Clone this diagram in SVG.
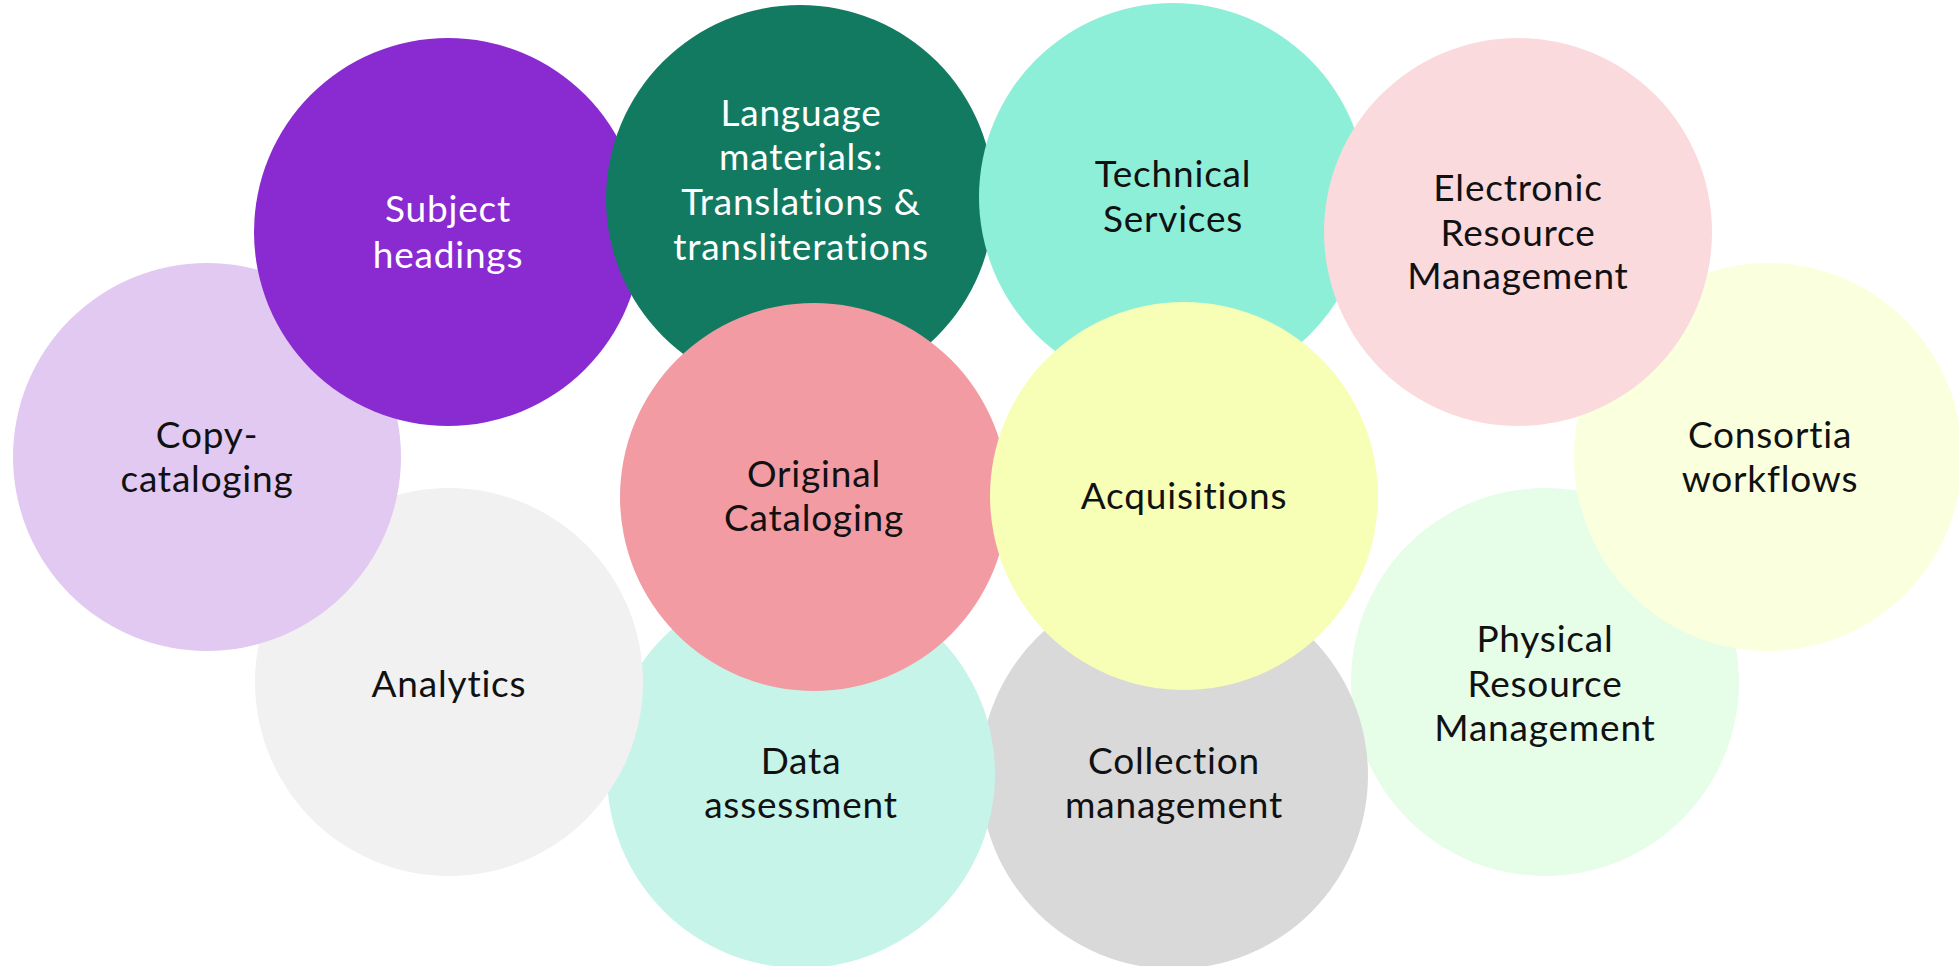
<svg xmlns="http://www.w3.org/2000/svg" width="1959" height="966" viewBox="0 0 1959 966">
<style>
text{font-family:Lato,"Open Sans","Liberation Sans",sans-serif;font-size:37px;letter-spacing:0.8px;font-variant-ligatures:none;text-anchor:middle;fill:#111}
.w{fill:#fff}
</style>
<rect width="1959" height="966" fill="#fff"/>
<g id="physical"><circle cx="1545" cy="682" r="194" fill="#E6FDE8"/><text x="1545" y="652">Physical</text><text x="1545" y="697">Resource</text><text x="1545" y="741">Management</text></g>
<g id="collection"><circle cx="1174" cy="775" r="194" fill="#D9D9D9"/><text x="1174" y="774">Collection</text><text x="1174" y="818">management</text></g>
<g id="data"><circle cx="801" cy="774" r="194" fill="#C6F4E9"/><text x="801" y="774">Data</text><text x="801" y="818">assessment</text></g>
<g id="analytics"><circle cx="449" cy="682" r="194" fill="#F1F1F1"/><text x="449" y="697">Analytics</text></g>
<g id="copy"><circle cx="207" cy="457" r="194" fill="#E1C9F2"/><text x="207" y="448">Copy-</text><text x="207" y="492">cataloging</text></g>
<g id="subject"><circle cx="448" cy="232" r="194" fill="#8A2BD1"/><text class="w" x="448" y="222">Subject</text><text class="w" x="448" y="268">headings</text></g>
<g id="language"><circle cx="800" cy="199" r="194" fill="#137A62"/><text class="w" x="801" y="126">Language</text><text class="w" x="801" y="170">materials:</text><text class="w" x="801" y="215">Translations &amp;</text><text class="w" x="801" y="260">transliterations</text></g>
<g id="technical"><circle cx="1173" cy="197" r="194" fill="#8EEFD9"/><text x="1173" y="187">Technical</text><text x="1173" y="232">Services</text></g>
<g id="consortia"><circle cx="1768" cy="457" r="194" fill="#FAFFDE"/><text x="1770" y="448">Consortia</text><text x="1770" y="492">workflows</text></g>
<g id="electronic"><circle cx="1518" cy="232" r="194" fill="#FADADD"/><text x="1518" y="201">Electronic</text><text x="1518" y="246">Resource</text><text x="1518" y="289">Management</text></g>
<g id="original"><circle cx="814" cy="497" r="194" fill="#F29BA3"/><text x="814" y="487">Original</text><text x="814" y="531">Cataloging</text></g>
<g id="acquisitions"><circle cx="1184" cy="496" r="194" fill="#F7FEB6"/><text x="1184" y="509">Acquisitions</text></g>
<g id="connectors"></g>
</svg>
